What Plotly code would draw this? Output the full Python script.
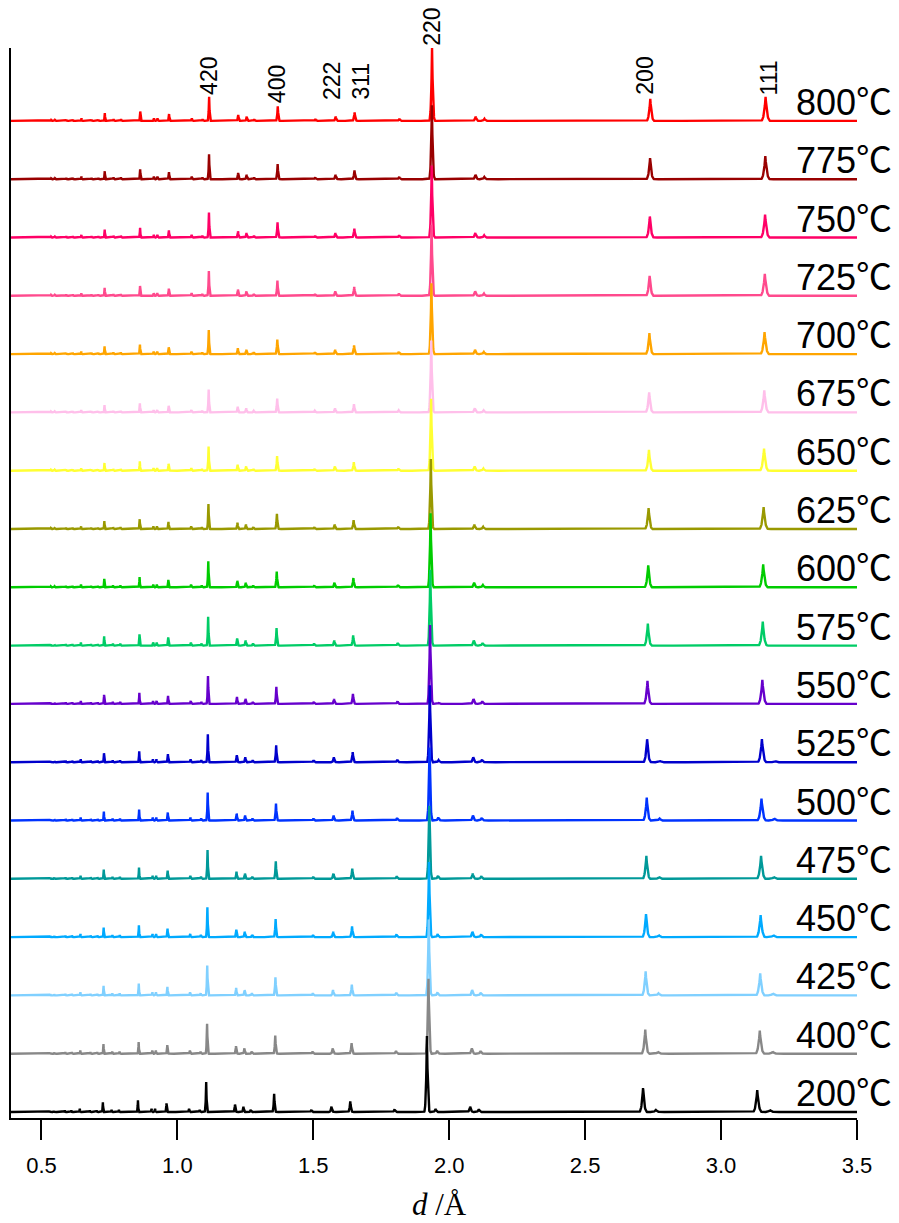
import numpy as np
import plotly.graph_objects as go

# ---------------- data ----------------
temperatures = [800, 775, 750, 725, 700, 675, 650, 625, 600, 575, 550, 525, 500, 475, 450, 425, 400, 200]
colors = ["#FF0000", "#990000", "#FF0066", "#FF4A8D", "#FFA500", "#FFBFEA", "#FFFF33", "#999900",
          "#00CC00", "#00CC66", "#6600CC", "#0000CC", "#0033FF", "#009999", "#00AAFF", "#80D0FF",
          "#888888", "#000000"]
# lattice expansion factor of d relative to the 200 degC pattern
d_scale = [1.0098, 1.0095, 1.0092, 1.0089, 1.0086, 1.0083, 1.0080, 1.0075, 1.0070, 1.0065,
           1.0060, 1.0055, 1.0050, 1.0045, 1.0040, 1.0035, 1.0030, 1.0000]
# heights of main reflections (111, 200, 220) per pattern
h_111 = [24, 23, 23, 22, 22, 22, 22, 22, 23, 24, 24, 23, 22, 23, 22, 22, 23, 22]
h_200 = [22, 21, 21, 20, 21, 20, 21, 21, 22, 22, 23, 23, 23, 23, 23, 24, 24, 24]
h_220 = [73, 74, 72, 71, 71, 72, 72, 70, 74, 76, 79, 77, 73, 73, 75, 76, 75, 76]
# scale of the remaining reflections per pattern
minor_scale = [0.86, 0.89, 0.89, 0.89, 0.86, 0.82, 0.86, 0.89, 0.93, 1.03, 1.00, 1.00, 1.00,
               1.03, 1.07, 1.07, 1.07, 1.07]
# weak shoulder reflections seen in the low-temperature patterns
second_scale = [0, 0, 0, 0, 0, 0, 0, 0, 0, 0, 0.3, 0.7, 1, 1, 1, 1, 1, 1]

main_d = [3.133, 2.713, 1.918]
minor_d = [0.531, 0.545, 0.586, 0.610, 0.641, 0.678, 0.703, 0.726, 0.758, 0.785, 0.855, 0.905,
           0.918, 0.960, 1.043, 1.082, 1.106, 1.212, 1.243, 1.270, 1.356, 1.493, 1.567, 1.636,
           1.799, 2.077, 2.109]
minor_h = [1, 1, 1.5, 1.5, 3, 1.5, 1.5, 9, 2, 2, 11, 3,
           3, 8, 3, 2, 28, 7, 5, 2, 17, 2, 5, 10,
           2.5, 5, 2.5]
second_d = [1.950, 2.760, 3.180]
second_h = [3, 2, 2]

hkl_labels = ["420", "400", "222", "311", "220", "200", "111"]
hkl_label_d = [1.116, 1.367, 1.569, 1.672, 1.936, 2.719, 3.176]

x_ticks = [0.5, 1.0, 1.5, 2.0, 2.5, 3.0, 3.5]
x_tick_text = ["0.5", "1.0", "1.5", "2.0", "2.5", "3.0", "3.5"]

# ---------------- layout constants ----------------
X_MIN, X_MAX = 0.388, 3.5
STEP = 58.3          # vertical offset between patterns
WIDTH_FRAC = 0.006   # peak half-base width relative to d
N = len(temperatures)

grid = np.arange(X_MIN, X_MAX + 1e-9, 0.001)


def pattern(i):
    s = d_scale[i]
    peaks = [(d * s, h) for d, h in zip(main_d, [h_111[i], h_200[i], h_220[i]])]
    peaks += [(d * s, h * minor_scale[i]) for d, h in zip(minor_d, minor_h)]
    if second_scale[i] > 0:
        peaks += [(d * s, h * second_scale[i]) for d, h in zip(second_d, second_h)]
    parts = [grid]
    for c, h in peaks:
        w = WIDTH_FRAC * c
        parts.append(c + w * np.linspace(-1, 1, 25))
    x = np.unique(np.round(np.concatenate(parts), 5))
    x = x[(x >= X_MIN) & (x <= X_MAX)]
    y = np.zeros_like(x)
    for c, h in peaks:
        w = WIDTH_FRAC * c
        t = np.abs(x - c) / w
        y += h * np.clip(1 - t, 0, None) ** 3
    return x, y


fig = go.Figure()
for i, (T, col) in enumerate(zip(temperatures, colors)):
    x, y = pattern(i)
    offset = (N - 1 - i) * STEP
    fig.add_trace(go.Scatter(x=x, y=np.round(y + offset, 2), mode="lines",
                             line=dict(color=col, width=2.4), showlegend=False,
                             hoverinfo="skip"))
    fig.add_annotation(x=1.044, xref="paper", y=offset + 22, yref="y",
                       text=f"{T}<span style=\"font-family:Noto Sans CJK JP\">℃</span>",
                       showarrow=False, xanchor="right", yanchor="middle",
                       font=dict(family="Liberation Sans", size=36, color="black"))

# hkl labels placed above the top (800 degC) pattern
label_base = {"420": 1015, "400": 1007, "222": 1010, "311": 1010, "220": 1064, "200": 1015, "111": 1015}
for lab, d in zip(hkl_labels, hkl_label_d):
    fig.add_annotation(x=d, y=label_base[lab], xref="x", yref="y", text=lab, textangle=-90,
                       showarrow=False, xanchor="center", yanchor="bottom",
                       font=dict(family="Liberation Sans", size=23, color="black"))

# axis title
fig.add_annotation(x=0.507, y=-0.081, xref="paper", yref="paper", text="<i>d</i> /Å",
                   showarrow=False, xanchor="center", yanchor="middle",
                   font=dict(family="Liberation Serif", size=31, color="black"))

fig.update_layout(
    width=891, height=1215,
    margin=dict(l=3, r=42.3, t=40, b=105),
    plot_bgcolor="white", paper_bgcolor="white",
    xaxis=dict(range=[X_MIN, X_MAX], tickvals=x_ticks, ticktext=x_tick_text,
               ticks="outside", ticklen=20, tickwidth=2, tickcolor="black",
               showline=True, linewidth=2, linecolor="black", showgrid=False, zeroline=False,
               tickfont=dict(family="Liberation Sans", size=22, color="black"),
               ticklabelstandoff=7),
    yaxis=dict(range=[-6, 1064], showline=True, linewidth=2, linecolor="black",
               showticklabels=False, ticks="", showgrid=False, zeroline=False),
)

fig.write_html("out.html")
